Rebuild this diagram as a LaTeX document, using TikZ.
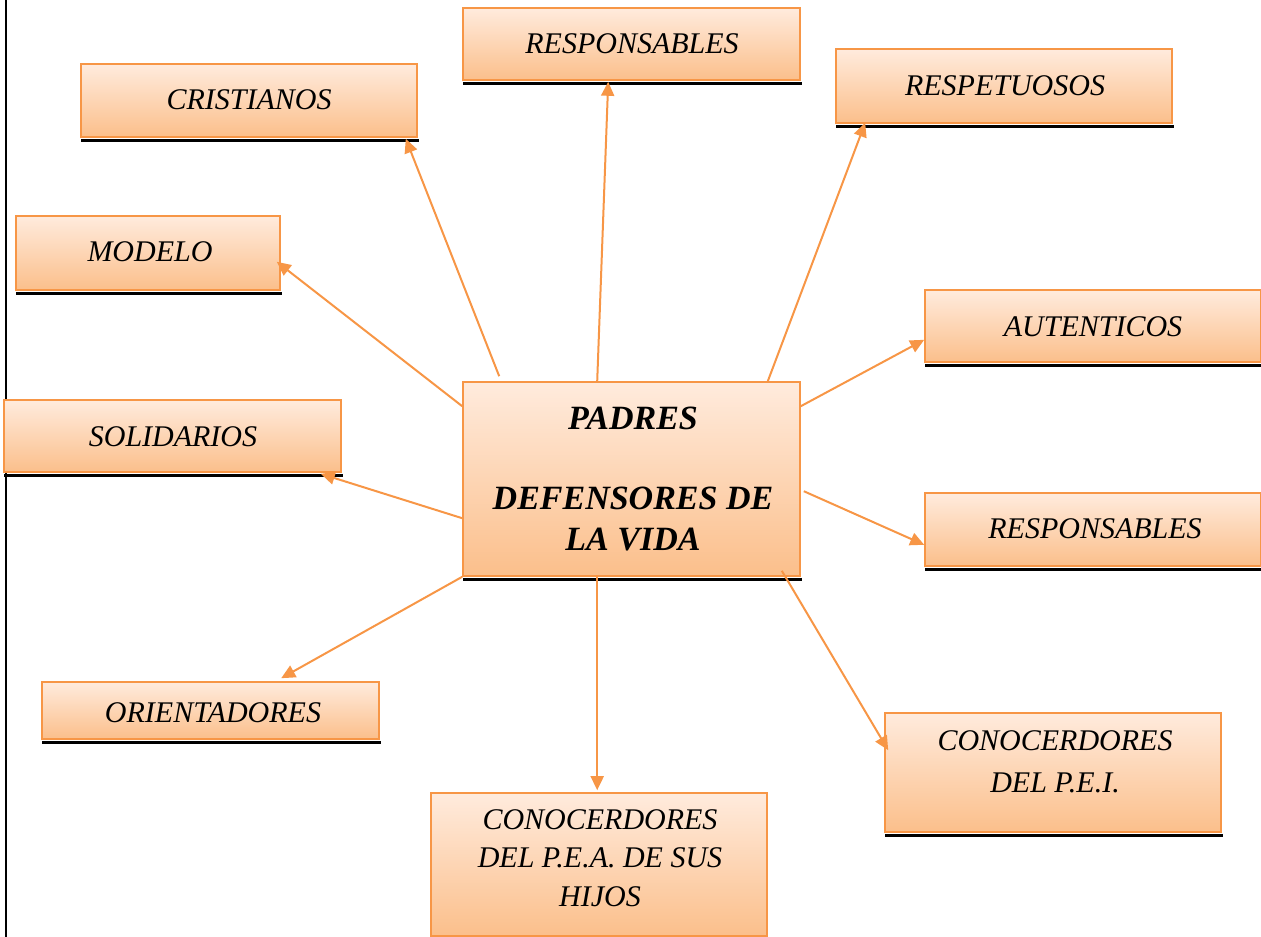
\documentclass[tikz,border=0pt]{standalone}
\usepackage{fontspec}
\setmainfont{Liberation Serif}
\usetikzlibrary{arrows.meta,calc}
\definecolor{orng}{HTML}{F79646}
\definecolor{topc}{HTML}{FFEBDD}
\definecolor{botc}{HTML}{FBBF8B}
\tikzset{
  box/.style={draw=orng, line width=1.6pt, top color=topc, bottom color=botc, inner sep=0pt},
  lbl/.style={font=\fontsize{30}{34}\selectfont\itshape, text=black, inner sep=0pt},
  clbl/.style={font=\fontsize{34}{38}\selectfont\itshape\bfseries, text=black, inner sep=0pt},
  conn/.style={draw=orng, line width=2pt, -{Triangle[length=14pt,width=13pt]}},
  shadowbar/.style={draw=black, line width=3pt}
}
\begin{document}
\begin{tikzpicture}[x=1pt,y=-1pt]
\useasboundingbox (0,0) rectangle (1261,937);
\draw[black, line width=1.5pt] (6,0) -- (6,937);
% boxes
\node[box, minimum width=337, minimum height=72] (r1) at (631.5,44) {};
\node[box, minimum width=336, minimum height=73] (cri) at (249,100.5) {};
\node[box, minimum width=336, minimum height=74] (res) at (1004,86) {};
\node[box, minimum width=264, minimum height=74] (mod) at (148,253) {};
\node[box, minimum width=336, minimum height=72] (aut) at (1093,326) {};
\node[box, minimum width=337, minimum height=194] (cen) at (631.5,479) {};
\node[box, minimum width=337, minimum height=72] (sol) at (172.5,436) {};
\node[box, minimum width=336, minimum height=73] (r2) at (1093,529.5) {};
\node[box, minimum width=337, minimum height=57] (ori) at (210.5,710.5) {};
\node[box, minimum width=336, minimum height=143] (pea) at (599,864.5) {};
\node[box, minimum width=336, minimum height=119] (pei) at (1053,772.5) {};
% shadow bars
\foreach \n in {r1,cri,res,mod,aut,cen,sol,r2,ori,pei}{
  \draw[shadowbar] ([shift={(1,2.5)}]\n.south west) -- ([shift={(1,2.5)}]\n.south east);
}
% labels
\node[lbl] (t1) at (632,44) {RESPONSABLES};
\node[lbl] (t2) at (249,100) {CRISTIANOS};
\node[lbl] (t3) at (1005,86) {RESPETUOSOS};
\node[lbl] (t4) at (150,252) {MODELO};
\node[lbl] (t5) at (1093,327) {AUTENTICOS};
\node[clbl] (t6) at (633,418) {PADRES};
\node[clbl] (t7) at (633,498) {DEFENSORES DE};
\node[clbl] (t8) at (633,540) {LA VIDA};
\node[lbl] (t9) at (173,437) {SOLIDARIOS};
\node[lbl] (t10) at (1095,529) {RESPONSABLES};
\node[lbl] (t11) at (213,713) {ORIENTADORES};
\node[lbl] (t12) at (600,820) {CONOCERDORES};
\node[lbl] (t13) at (600,858) {DEL P.E.A. DE SUS};
\node[lbl] (t14) at (600,897) {HIJOS};
\node[lbl] (t15) at (1055,741) {CONOCERDORES};
\node[lbl] (t16) at (1055,783) {DEL P.E.I.};
% connectors
\draw[conn] ([shift={(37,-5)}]cen.north west) -- ([shift={(-12,1)}]cri.south east);
\draw[conn] ([shift={(135,0)}]cen.north west) -- ([shift={(146,1)}]r1.south west);
\draw[conn] ([shift={(-33,0)}]cen.north east) -- ([shift={(30,-1)}]res.south west);
\draw[conn] ([shift={(0,25)}]cen.north west) -- ([shift={(-4,-29)}]mod.south east);
\draw[conn] ([shift={(0,25)}]cen.north east) -- ([shift={(0,-23)}]aut.south west);
\draw[conn] ([shift={(0,137)}]cen.north west) -- ([shift={(-21,1)}]sol.south east);
\draw[conn] ([shift={(3,110)}]cen.north east) -- ([shift={(0,-22)}]r2.south west);
\draw[conn] (cen.south west) -- ([shift={(240,-3)}]ori.north west);
\draw[conn] ([shift={(135,0)}]cen.south west) -- ([shift={(167,-2)}]pea.north west);
\draw[conn] ([shift={(-19,-6)}]cen.south east) -- ([shift={(4,38)}]pei.north west);
\end{tikzpicture}
\end{document}
